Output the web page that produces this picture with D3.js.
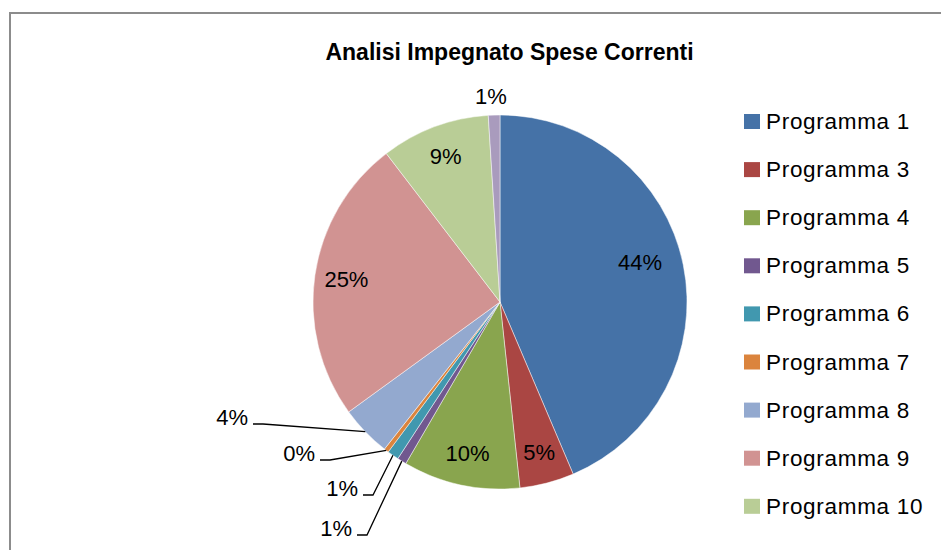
<!DOCTYPE html>
<html><head><meta charset="utf-8">
<script src="https://cdn.jsdelivr.net/npm/d3@7"></script>
<style>body{margin:0;background:#fff;overflow:hidden}</style>
</head><body><svg id="c" width="941" height="550"></svg>
<script>
const categories = ["Programma 1","Programma 3","Programma 4","Programma 5","Programma 6","Programma 7","Programma 8","Programma 9","Programma 10","Programma 11"];
const values = [43.6, 4.7, 10.1, 0.8, 1.0, 0.4, 4.4, 24.6, 9.4, 1.0];
const colors = ["#4572A7","#AA4643","#89A54E","#71588F","#4198AF","#DB843D","#93A9CF","#D19392","#B9CD96","#A99BBD"];
const title = "Analisi Impegnato Spese Correnti";

const svg = d3.select("#c");
const font = "'Liberation Sans', Arial, sans-serif";
const W = 941, H = 550;
const cx = 500, cy = 302, R = 187;

// chart frame
svg.append("rect").attr("x", 10).attr("y", 13).attr("width", 1000).attr("height", 600)
  .attr("fill", "#fff").attr("stroke", "#8c8c8c").attr("stroke-width", 2);

svg.append("text").attr("x", 509.5).attr("y", 59.5).attr("text-anchor", "middle")
  .attr("font-family", font).attr("font-size", 23).attr("font-weight", "bold")
  .attr("fill", "#000").text(title);

const total = d3.sum(values);
const fmt = d3.format(".0%");
const pie = d3.pie().sort(null).value(d => d)(values);
const arc = d3.arc().innerRadius(0).outerRadius(R);
const g = svg.append("g").attr("transform", `translate(${cx},${cy})`);

g.selectAll("path.s").data(pie).join("path").attr("class", "s")
  .attr("d", arc).attr("fill", (d, i) => colors[i])
  .attr("stroke", "#fff").attr("stroke-width", 0.6).attr("stroke-opacity", 0.8);

// layout for labels placed outside (elbow point relative to centre)
const outside = {3: [-133, 233], 4: [-127, 193], 5: [-170, 158], 6: [-237, 122]};
const freeLabel = {9: [-9, -206]};
const insideOverride = {0: [140, -40]};

pie.forEach((d, i) => {
  const label = fmt(values[i] / total);
  if (outside[i]) {
    const [ex, ey] = outside[i];
    const mid = (d.startAngle + d.endAngle) / 2;
    const px = Math.sin(mid) * R, py = -Math.cos(mid) * R;
    g.append("polyline")
      .attr("points", `${px},${py} ${ex},${ey} ${ex - 10},${ey}`)
      .attr("fill", "none").attr("stroke", "#000").attr("stroke-width", 1.3);
    g.append("text").attr("x", ex - 15).attr("y", ey + 1).attr("text-anchor", "end")
      .attr("font-family", font).attr("font-size", 22).attr("fill", "#000").text(label);
  } else if (freeLabel[i]) {
    const [fx, fy] = freeLabel[i];
    g.append("text").attr("x", fx).attr("y", fy).attr("dy", "0.35em").attr("text-anchor", "middle")
      .attr("font-family", font).attr("font-size", 22).attr("fill", "#000").text(label);
  } else {
    let x, y;
    if (insideOverride[i]) { [x, y] = insideOverride[i]; }
    else {
      const mid = (d.startAngle + d.endAngle) / 2;
      x = Math.sin(mid) * R * 0.83; y = -Math.cos(mid) * R * 0.83;
    }
    g.append("text").attr("x", x).attr("y", y).attr("dy", "0.35em").attr("text-anchor", "middle")
      .attr("font-family", font).attr("font-size", 22).attr("fill", "#000").text(label);
  }
});

// legend: like the original, entries that do not fit in the visible area are dropped
const legTop = 114, rowH = 48.1, itemH = 22;
const shown = categories.filter((c, i) => legTop + i * rowH + itemH <= H);
const lg = svg.append("g").attr("transform", `translate(744,${legTop})`);
const rows = lg.selectAll("g").data(shown).join("g")
  .attr("transform", (d, i) => `translate(0,${i * rowH})`);
rows.append("rect").attr("width", 16).attr("height", 15).attr("fill", (d, i) => colors[i]);
rows.append("text").attr("x", 22).attr("y", 15).attr("font-family", font).attr("font-size", 22.5)
  .attr("letter-spacing", 0.7).attr("fill", "#000").text(d => d);
</script></body></html>
